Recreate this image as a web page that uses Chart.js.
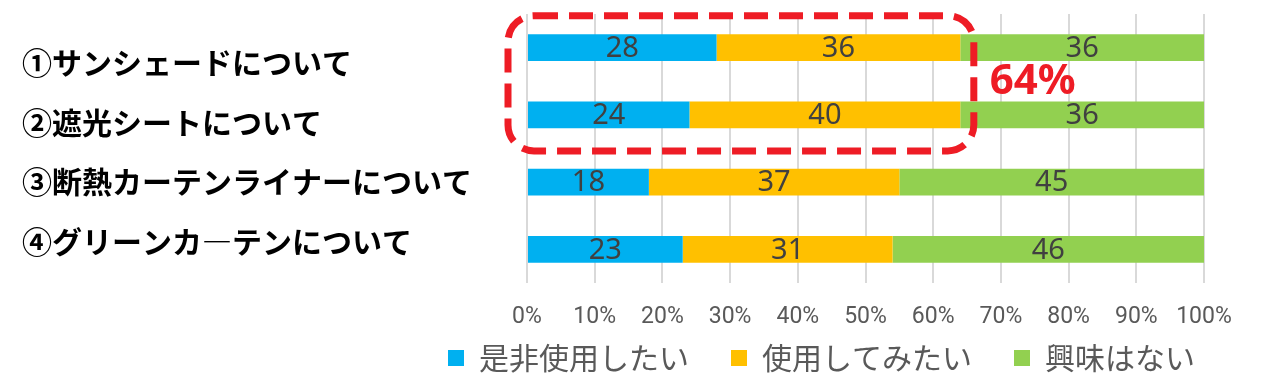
<!DOCTYPE html>
<html><head><meta charset="utf-8">
<script src="https://cdn.jsdelivr.net/npm/chart.js@4.4.1/dist/chart.umd.min.js"></script>
<style>html,body{margin:0;padding:0;background:#fff;}</style>
</head><body>
<canvas id="c" width="1280" height="383"></canvas>
<script>
const categories = ['①サンシェードについて', '②遮光シートについて', '③断熱カーテンライナーについて', '④グリーンカ―テンについて'];
const seriesNames = ['是非使用したい', '使用してみたい', '興味はない'];
const definitelyUse = [28, 24, 18, 23];
const wantToTry = [36, 40, 37, 31];
const notInterested = [36, 36, 45, 46];
const seriesColors = ['#00B0F0', '#FFC000', '#92D050'];
const xTickValues = [0, 10, 20, 30, 40, 50, 60, 70, 80, 90, 100];
const xTickLabels = ['0%', '10%', '20%', '30%', '40%', '50%', '60%', '70%', '80%', '90%', '100%'];
const highlightText = '64%';
const highlightRows = [0, 1];
const highlightUpTo = 66;

const barLabels = {
  id: 'barLabels',
  afterDatasetsDraw(chart) {
    const ctx = chart.ctx;
    ctx.save();
    ctx.font = '29px "Noto Sans"';
    ctx.fillStyle = '#404040';
    ctx.textAlign = 'center';
    ctx.textBaseline = 'middle';
    chart.data.datasets.forEach((ds, i) => {
      chart.getDatasetMeta(i).data.forEach((el, j) => {
        ctx.fillText(String(ds.data[j]), (el.x + el.base) / 2, el.y + 1);
      });
    });
    ctx.restore();
  }
};

const highlight = {
  id: 'highlight',
  afterDraw(chart) {
    const ctx = chart.ctx, xs = chart.scales.x, ys = chart.scales.y;
    const left = xs.getPixelForValue(0) - 19;
    const right = xs.getPixelForValue(highlightUpTo);
    const y0 = ys.getPixelForValue(highlightRows[0]);
    const y1 = ys.getPixelForValue(highlightRows[1]);
    const top = y0 - 32, bottom = y1 + 36;
    ctx.save();
    ctx.strokeStyle = '#ee1c25';
    ctx.lineWidth = 7;
    ctx.setLineDash([24, 11]);
    ctx.beginPath();
    ctx.roundRect(left, top, right - left, bottom - top, 26);
    ctx.stroke();
    ctx.setLineDash([]);
    ctx.fillStyle = '#ee1c25';
    ctx.font = 'bold 42px "Noto Sans"';
    ctx.textAlign = 'left';
    ctx.textBaseline = 'middle';
    ctx.fillText(highlightText, right + 16, (y0 + y1) / 2 + 1);
    ctx.restore();
  }
};

const legendPlace = {
  id: 'legendPlace',
  afterLayout(chart) {
    const l = chart.legend;
    if (l) {
      l.left += 33; l.right += 33;
      l.top = chart.chartArea.bottom + 18;
      l.bottom = chart.height;
      l.height = l.bottom - l.top;
    }
  }
};

new Chart(document.getElementById('c'), {
  type: 'bar',
  data: {
    labels: categories,
    datasets: [
      { label: seriesNames[0], data: definitelyUse, backgroundColor: seriesColors[0], borderWidth: 0 },
      { label: seriesNames[1], data: wantToTry, backgroundColor: seriesColors[1], borderWidth: 0 },
      { label: seriesNames[2], data: notInterested, backgroundColor: seriesColors[2], borderWidth: 0 }
    ]
  },
  options: {
    indexAxis: 'y',
    responsive: false,
    animation: false,
    devicePixelRatio: 1,
    categoryPercentage: 1,
    barPercentage: 0.4,
    layout: { padding: { left: 22, right: 76, top: 14, bottom: 3 } },
    scales: {
      x: {
        stacked: true,
        min: 0, max: 100,
        afterBuildTicks(s) { s.ticks = xTickValues.map(v => ({ value: v })); },
        afterFit(s) { s.height = 49; },
        ticks: {
          callback: (v) => xTickLabels[xTickValues.indexOf(v)],
          font: { family: 'Roboto', size: 23 },
          color: '#595959',
          padding: 20,
          maxRotation: 0,
          autoSkip: false
        },
        grid: { color: '#d9d9d9', lineWidth: 2, drawTicks: false },
        border: { display: false }
      },
      y: { stacked: true, display: false },
      yl: {
        type: 'linear',
        position: 'left',
        reverse: true,
        offset: false,
        min: 0.185, max: 4.7,
        afterBuildTicks(s) { s.ticks = categories.map((c, i) => ({ value: i + 1 })); },
        afterFit(s) { s.width = 505; s.paddingTop = 0; s.paddingBottom = 0; },
        ticks: {
          callback: (v) => categories[v - 1],
          crossAlign: 'far',
          font: { family: 'Noto Sans CJK JP', size: 30, weight: 'bold' },
          color: '#000000',
          autoSkip: false
        },
        grid: { display: false },
        border: { display: false }
      }
    },
    plugins: {
      legend: {
        position: 'bottom',
        align: 'end',
        maxHeight: 48,
        labels: {
          boxWidth: 16, boxHeight: 16,
          padding: 42,
          color: '#595959',
          font: { family: 'Noto Sans CJK JP', size: 30 }
        }
      },
      tooltip: { enabled: false }
    }
  },
  plugins: [barLabels, highlight, legendPlace]
});
</script>
</body></html>
